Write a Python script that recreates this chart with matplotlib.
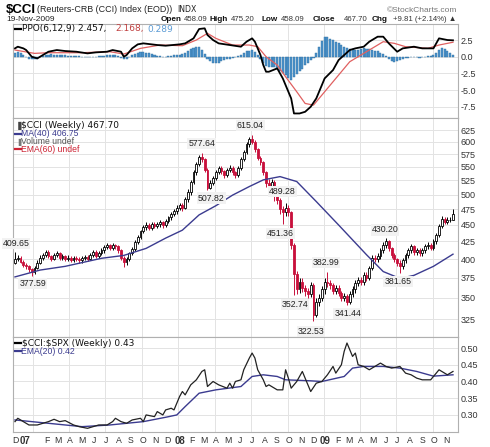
import datetime as dt
import matplotlib
matplotlib.use("Agg")
import matplotlib.pyplot as plt
import matplotlib.dates as mdates
from matplotlib.ticker import FixedLocator, NullLocator, FuncFormatter

# ---------------- data ----------------
start = dt.date(2006, 11, 17)
n_weeks = 158
week_dates = [start + dt.timedelta(days=7 * i) for i in range(n_weeks)]

opens = [395,400,402,396,392,390,386,382,388,395,
402,405,410,404,400,406,408,402,404,400,
402,399,401,400,398,401,403,400,406,410,
404,408,412,417,420,416,420,418,412,402,
396,400,408,414,424,432,440,447,450,446,
452,448,451,455,450,456,462,468,472,478,
482,478,492,505,522,540,556,570,565,545,
512,520,530,540,548,542,535,545,548,540,
535,548,565,580,595,605,600,585,568,560,
540,520,515,522,505,490,475,470,478,470,
420,380,360,370,362,358,355,365,330,345,
350,360,370,368,365,358,362,356,350,352,
345,355,360,368,372,370,378,375,388,402,
400,404,412,420,425,415,405,400,395,390,
398,405,412,418,410,412,408,412,418,420,
416,425,435,448,460,455,458,458.09]

closes = [400,402,396,392,390,386,382,388,395,402,
405,410,404,400,406,408,402,404,400,402,
399,401,400,398,401,403,400,406,410,404,
408,412,417,420,416,420,418,412,402,396,
400,408,414,424,432,440,447,450,446,452,
448,451,455,450,456,462,468,472,478,482,
478,492,505,522,540,556,570,565,545,512,
520,530,540,548,542,535,545,548,540,535,
548,565,580,595,605,600,585,568,560,540,
520,515,522,505,490,475,470,478,470,420,
380,360,370,362,358,355,365,330,345,350,
360,370,368,365,358,362,356,350,352,345,
355,360,368,372,370,378,375,388,402,400,
404,412,420,425,415,405,400,395,390,398,
405,412,418,410,412,408,412,418,420,416,
425,435,448,460,455,458,458,467.70]

highs = [409.65,406,404,398,395,392,388,391,398,405,
408,413,412,406,409,411,410,407,406,405,
404,404,404,403,404,406,405,409,413,412,
411,415,420,423,422,423,422,420,414,404,
403,410,417,427,435,443,450,454,453,455,
455,455,458,457,459,465,471,476,482,486,
486,495,509,526,544,560,574,577.64,568,548,
525,534,544,552,551,545,548,553,551,543,
551,569,584,599,610,615.04,603,588,571,562,
542,528,527,525,508,494,480,486,482,472,
423,384,374,374,366,362,369,368,349,354,
364,374,382.99,372,368,366,365,358,356,355,
358,364,372,376,376,382,382,391,405,406,
408,416,424,430.20,427,417,408,402,398,401,
408,416,422,420,416,415,415,421,424,423,
428,438,451,464,463,462,462,475.20]

lows = [393,397,394,389,387,383,377.59,380,386,393,
399,403,401,397,398,403,399,399,397,397,
396,396,397,395,395,398,397,398,403,401,
401,405,409,414,413,413,414,409,398,389,
392,397,405,411,421,429,437,443,442,443,
445,445,447,446,447,453,458,464,468,474,
472,475,488,500,518,535,552,560,540,507.82,
509,516,526,536,537,530,531,541,535,530,
532,545,561,576,590,595,580,563,554,535,
514,509,510,489.28,484,468,451.36,465,464,414,
352.74,354,356,357,352,349,351,322.53,327,340,
346,355,363,360,354,354,352,346,346,341.44,
342,351,356,364,366,366,371,372,385,396,
396,400,409,416,411,401,396,391,381.65,387,
395,402,408,406,406,404,404,409,414,412,
413,422,432,445,451,451,454,458.09]

ma40_idx = [0, 9, 18, 31, 39, 47, 54, 60, 66, 72, 78, 84, 89, 95, 101, 108, 116, 126, 132, 138, 143, 150, 157]
ma40_val = [376, 385, 390, 401, 405, 415, 430, 442, 466, 481, 499, 514, 526, 532, 523, 488, 450, 406, 383, 374, 378, 390, 406.75]

ppo_idx = [0,1,3,4,6,8,10,12,15,18,22,26,29,33,35,38,39,40,42,44,46,51,54,59,61,64,66,68,69,71,73,77,81,83,85,86,
           88,89,90,91,94,96,97,99,100,102,104,106,108,111,114,116,120,122,125,127,130,132,134,137,139,143,146,150,152,155,157]
ppo_val = [1.25,1.5,1.25,1.0,0.0,-0.25,0.25,0.75,1.0,0.85,0.75,0.5,0.65,0.75,1.0,0.75,0.0,0.25,1.25,1.85,2.0,1.75,1.65,1.85,2.0,2.75,4.15,4.25,3.25,2.5,2.0,1.75,1.5,2.25,2.75,2.25,
           0.25,-1.25,-2.25,-2.25,-1.75,-3.25,-4.25,-6.25,-8.5,-8.5,-8.25,-7.5,-6.25,-3.25,-2.0,-0.5,1.0,1.25,1.5,2.25,3.0,3.0,2.0,0.75,1.25,1.5,1.25,1.25,2.75,2.5,2.457]

sig_idx = [0,7,12,24,34,39,45,52,60,65,69,72,78,84,87,90,94,97,101,104,107,110,114,120,126,132,136,140,148,152,157]
sig_val = [1.0,0.5,0.6,0.6,0.75,0.4,1.25,1.75,1.65,2.5,3.5,2.75,1.75,1.75,1.5,0.0,-1.25,-3.0,-5.25,-7.0,-7.25,-5.75,-3.75,-0.75,0.75,2.25,2.0,1.5,1.25,1.75,2.168]

hist = [0.6,0.7,0.5,0.3,
0.0,-0.3,-0.4,-0.4,-0.3,
-0.1,0.1,0.2,0.3,0.35,0.3,
0.3,0.25,0.2,0.2,0.15,0.1,0.1,0.1,0.05,0.0,-0.05,
-0.1,-0.1,-0.05,0.0,0.05,0.1,
0.15,0.2,0.2,0.25,0.2,0.1,
-0.2,-0.35,-0.3,-0.1,
0.2,0.45,0.6,0.7,0.7,0.6,0.5,0.4,0.3,
0.15,0.05,-0.05,0.0,0.1,0.15,0.2,0.25,
0.3,0.35,0.5,0.8,1.1,
1.3,1.5,1.4,1.0,0.4,
-0.3,-0.7,-1.0,-1.0,-0.9,-0.7,-0.5,-0.4,
-0.3,-0.2,-0.1,0.1,0.3,
0.6,0.8,0.9,1.0,0.7,0.2,
-0.4,-0.9,-1.4,-1.6,-1.5,-1.6,-1.8,-2.1,-2.4,-2.8,-3.2,-3.5,-3.0,
-2.6,-2.2,-1.8,-1.3,-0.9,-0.5,-0.2,
0.5,1.5,2.4,3.0,2.9,2.7,2.5,
2.2,2.0,1.7,1.5,1.3,1.2,
1.1,1.0,1.0,1.2,1.3,1.2,1.1,1.0,0.9,0.8,0.6,0.4,
0.1,-0.3,-0.6,-0.8,-0.7,-0.5,
-0.3,-0.2,-0.2,-0.1,0.0,-0.1,-0.2,-0.1,0.0,0.1,0.1,0.2,
0.6,1.0,1.3,1.2,0.8,0.5,0.289]

ratio_idx = [0,1,3,5,8,10,12,14,16,18,21,23,26,28,30,33,35,36,38,40,42,45,46,47,50,51,53,54,56,57,
             58,59,60,61,63,65,67,68,69,71,73,76,77,78,79,81,82,84,85,86,87,89,90,91,94,96,97,98,99,101,
             102,103,105,106,108,110,112,114,115,117,118,119,121,122,123,125,127,130,131,133,135,138,140,142,144,146,149,150,152,155,157]
ratio_val = [0.28,0.29,0.28,0.27,0.27,0.275,0.28,0.287,0.28,0.283,0.27,0.265,0.26,0.265,0.27,0.27,0.28,0.29,0.28,0.275,
             0.285,0.29,0.28,0.30,0.295,0.31,0.30,0.315,0.32,0.315,0.335,0.355,0.37,0.36,0.39,0.405,0.43,0.435,0.385,0.40,
             0.39,0.38,0.395,0.38,0.40,0.405,0.435,0.47,0.485,0.47,0.435,0.405,0.385,0.39,0.375,0.375,0.435,0.41,0.38,0.40,
             0.415,0.43,0.39,0.37,0.395,0.40,0.42,0.445,0.425,0.45,0.49,0.515,0.475,0.485,0.45,0.445,0.435,0.45,0.455,0.445,
             0.44,0.445,0.425,0.42,0.41,0.405,0.405,0.415,0.435,0.42,0.43]

ema20_idx = [0,12,24,34,46,54,58,61,66,72,81,85,89,94,97,106,110,118,121,125,132,138,144,150,157]
ema20_val = [0.285,0.275,0.265,0.27,0.28,0.293,0.30,0.325,0.365,0.375,0.385,0.415,0.42,0.415,0.405,0.402,0.40,0.415,0.44,0.445,0.445,0.44,0.43,0.416,0.42]

ann_idx = [0, 6, 67, 69, 85, 93, 96, 100, 107, 112, 119, 133, 138]
ann_kind = ['h', 'l', 'h', 'l', 'h', 'l', 'l', 'l', 'l', 'h', 'l', 'h', 'l']
ann_text = ['409.65', '377.59', '577.64', '507.82', '615.04', '489.28', '451.36',
            '352.74', '322.53', '382.99', '341.44', '430.20', '381.65']
ann_off = [(1, 9), (1, -8), (0, 9), (4, -8), (-2, 9), (8, 9), (-2, -9),
           (1, -9), (-2.5, -10), (-1.5, 9), (1, -8.5), (-1, 8), (-2, -8.5)]

price_ticks = [325, 350, 375, 400, 425, 450, 475, 500, 525, 550, 575, 600, 625]
ppo_ticks = [2.5, 0.0, -2.5, -5.0, -7.5]
ratio_ticks = [0.30, 0.35, 0.40, 0.45, 0.50]

month_letters = ['D', '07', 'F', 'M', 'A', 'M', 'J', 'J', 'A', 'S', 'O', 'N',
                 'D', '08', 'F', 'M', 'A', 'M', 'J', 'J', 'A', 'S', 'O', 'N',
                 'D', '09', 'F', 'M', 'A', 'M', 'J', 'J', 'A', 'S', 'O', 'N']

# ---------------- figure ----------------
W, H = 490, 447
fig = plt.figure(figsize=(W / 100, H / 100), dpi=100)
fig.patch.set_facecolor('white')

def fx(px):
    return px / W

def fy(py):
    return 1 - py / H

L, R = 13, 458
ax1 = fig.add_axes([fx(L), fy(118), fx(R - L), (118 - 24) / H])
ax2 = fig.add_axes([fx(L), fy(337), fx(R - L), (337 - 118) / H])
ax3 = fig.add_axes([fx(L), fy(432), fx(R - L), (432 - 337) / H])

xw = mdates.date2num(week_dates)
x0 = mdates.date2num(start) - 5
x1 = mdates.date2num(start) + 1111.6

def px_to_date(px):
    return x0 + (px - L) / (R - L) * (x1 - x0)

grid_c = '#e3e3e3'
spine_c = '#b0b0b0'
tick_c = '#333333'
tfont = 'Liberation Sans'

quarters = [dt.date(y, m, 1) for y in (2007, 2008, 2009) for m in (1, 4, 7, 10)]
qx = mdates.date2num(quarters)

for ax in (ax1, ax2, ax3):
    ax.set_xlim(x0, x1)
    ax.set_facecolor('white')
    for s in ax.spines.values():
        s.set_color(spine_c)
        s.set_linewidth(0.8)
    ax.yaxis.tick_right()
    ax.tick_params(axis='y', length=0, pad=2, labelsize=6.5, labelcolor=tick_c)
    ax.tick_params(axis='x', length=0)
    for q in qx:
        ax.axvline(q, color=grid_c, lw=0.7, zorder=0)

# ---- PPO panel ----
ax1.set_ylim(-9.18, 4.9)
ax1.yaxis.set_major_locator(FixedLocator(ppo_ticks))
ax1.yaxis.set_major_formatter(FuncFormatter(lambda v, p: f'{v:.1f}'))
for t in ppo_ticks:
    ax1.axhline(t, color=grid_c, lw=0.7, zorder=0)
ax1.bar(xw, hist, width=5.2, color='#4d93cc', edgecolor='#2f6f9f', linewidth=0.3, zorder=2)
ax1.plot(mdates.date2num([week_dates[i] for i in sig_idx]), sig_val, color='#e06060', lw=0.9, zorder=3)
ax1.plot(mdates.date2num([week_dates[i] for i in ppo_idx]), ppo_val, color='black', lw=1.3, zorder=4)
ax1.set_xticks([])

# ---- Price panel ----
ax2.set_yscale('log')
ax2.set_ylim(305.4, 651.6)
ax2.yaxis.set_major_locator(FixedLocator(price_ticks))
ax2.yaxis.set_minor_locator(NullLocator())
ax2.yaxis.set_major_formatter(FuncFormatter(lambda v, p: f'{v:.0f}'))
for t in price_ticks:
    ax2.axhline(t, color=grid_c, lw=0.7, zorder=0)
red = '#c8103c'
for i in range(n_weeks):
    o, h, l, c = opens[i], highs[i], lows[i], closes[i]
    prev = closes[i - 1] if i > 0 else opens[i]
    col = red if c < prev else 'black'
    xc = xw[i]
    ax2.vlines(xc, l, h, color=col, lw=0.7, zorder=3)
    lo, hi = min(o, c), max(o, c)
    if hi - lo < 0.6:
        hi = lo + 0.6
    face = col if c < o else 'white'
    ax2.bar(xc, hi - lo, bottom=lo, width=4.6, color=face, edgecolor=col, linewidth=0.6, zorder=4)
ax2.plot(mdates.date2num([week_dates[i] for i in ma40_idx]), ma40_val, color='#3b3b8f', lw=1.0, zorder=5)
for i, k, txt, (dx, dy) in zip(ann_idx, ann_kind, ann_text, ann_off):
    yv = highs[i] if k == 'h' else lows[i]
    ax2.annotate(txt, (xw[i], yv), xytext=(dx * 0.72, dy * 0.72), textcoords='offset points',
                 ha='center', va='center', fontsize=6.3, family=tfont, color='#222222', zorder=6,
                 bbox=dict(boxstyle='square,pad=0.12', fc='#f2f2f2', ec='none'))
ax2.set_xticks([])

# ---- Ratio panel ----
ax3.set_ylim(0.249, 0.533)
ax3.yaxis.set_major_locator(FixedLocator(ratio_ticks))
ax3.yaxis.set_major_formatter(FuncFormatter(lambda v, p: f'{v:.2f}'))
for t in ratio_ticks:
    ax3.axhline(t, color=grid_c, lw=0.7, zorder=0)
ax3.plot(mdates.date2num([week_dates[i] for i in ema20_idx]), ema20_val, color='#3b3b8f', lw=1.0, zorder=3)
ax3.plot(mdates.date2num([week_dates[i] for i in ratio_idx]), ratio_val, color='#222222', lw=0.9, zorder=4)

mpos = []
y, m = 2006, 12
for _ in month_letters:
    mpos.append(mdates.date2num(dt.date(y, m, 1) + dt.timedelta(days=3)))
    m += 1
    if m > 12:
        m, y = 1, y + 1
mpos[0] = px_to_date(15.5)
mpos[1] = px_to_date(25.5)
ax3.set_xticks(mpos)
ax3.set_xticklabels(month_letters)
ax3.tick_params(axis='x', pad=3, labelsize=6.3, labelcolor=tick_c)

for ax in (ax1, ax2, ax3):
    for lab in ax.get_yticklabels() + ax.get_xticklabels():
        lab.set_family(tfont)
for lab in ax3.get_xticklabels():
    if lab.get_text().isdigit():
        lab.set_fontweight('bold')
        lab.set_fontsize(7)

# ---------------- texts ----------------
def put(x_px, y_px, s, **kw):
    return fig.text(fx(x_px), fy(y_px), s, ha='left', va='baseline', **kw)

put(6, 13, '\\$CCI', fontsize=9.5, fontweight='bold', family=tfont, color='black')
put(37, 12.5, '(Reuters-CRB (CCI) Index (EOD))', fontsize=6.4, family=tfont, color='#222222')
put(177, 12.5, 'INDX', fontsize=5.6, family='DejaVu Sans', color='#222222')
fig.text(fx(457), fy(11.5), '\u00a9StockCharts.com', ha='right', va='baseline', fontsize=6.0,
         family=tfont, color='#777777')
put(6, 21, '19-Nov-2009', fontsize=6.0, family=tfont, color='#222222')
bold = dict(fontsize=5.9, fontweight='bold', family=tfont, color='#111111')
norm = dict(fontsize=5.6, family=tfont, color='#333333')
put(161, 21, 'Open', **bold)
put(183.5, 21, '458.09', **norm)
put(209, 21, 'High', **bold)
put(230.5, 21, '475.20', **norm)
put(262, 21, 'Low', **bold)
put(280.5, 21, '458.09', **norm)
put(313, 21, 'Close', **bold)
put(344, 21, '467.70', **norm)
put(372, 21, 'Chg', **bold)
put(393, 21, '+9.81 (+2.14%) \u25b2', **norm)

# panel legends
def legend_line(x_px, y_px, color, lw=1.6):
    fig.add_artist(plt.Line2D([fx(x_px), fx(x_px + 5.5)], [fy(y_px), fy(y_px)], color=color, lw=lw))

lf = dict(fontsize=6.5, family='DejaVu Sans')
legend_line(15, 29, 'black')
put(22, 31.5, 'PPO(6,12,9) 2.457,', color='#111111', **lf)
put(115, 31.5, '2.168,', color='#c04040', **lf)
put(147, 31.5, '0.289', color='#5b9bd5', **lf)

# price legend
put(15, 128.5, '\u2590', fontsize=6, color='#444444', family='DejaVu Sans')
put(21, 128.5, '\\$CCI (Weekly) 467.70', color='#111111', **lf)
sf = dict(fontsize=6.2, family=tfont)
legend_line(15, 134, '#3b3b8f')
put(21, 136.5, 'MA(40) 406.75', color='#3b3b8f', **sf)
put(15, 144, '\u2590', fontsize=5, color='#777777', family='DejaVu Sans')
put(21, 144, 'Volume undef', color='#555555', **sf)
legend_line(15, 149, '#cc2233')
put(21, 151.5, 'EMA(60) undef', color='#cc2233', **sf)

# ratio legend
legend_line(15, 343, 'black')
put(22, 345.5, '\\$CCI:\\$SPX (Weekly) 0.43', color='#111111', **lf)
legend_line(15, 351, '#3b3b8f')
put(21, 353.5, 'EMA(20) 0.42', color='#3b3b8f', **sf)

fig.savefig('out.png', dpi=100, facecolor='white')
